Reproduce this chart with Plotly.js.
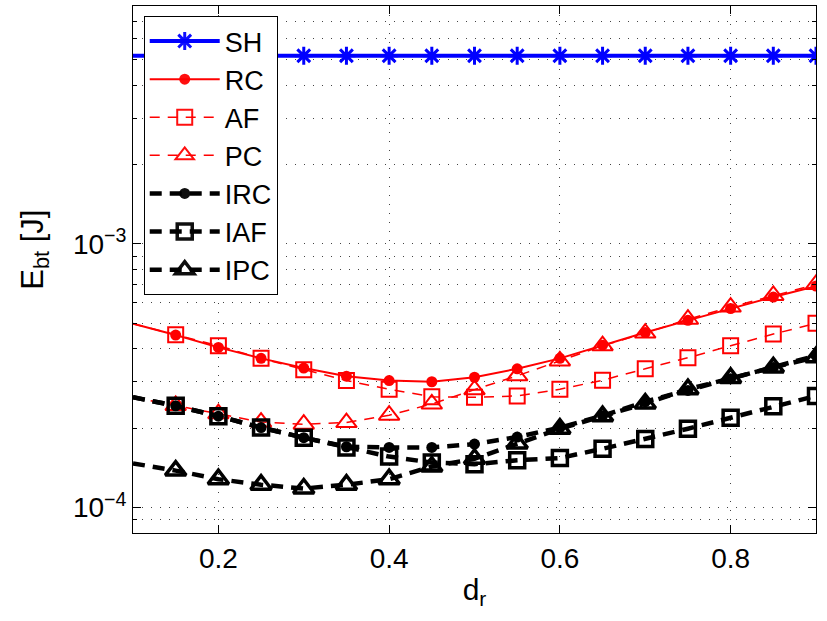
<!DOCTYPE html>
<html>
<head>
<meta charset="utf-8">
<script src="https://cdn.plot.ly/plotly-3.0.1.min.js"></script>
<style>html,body{margin:0;padding:0;background:#fff;}#chart{width:827px;height:621px;}</style>
</head>
<body>
<div id="chart"></div>
<script>
// x values (d_r)
const dr = [0.10, 0.15, 0.20, 0.25, 0.30, 0.35, 0.40, 0.45, 0.50, 0.55, 0.60, 0.65, 0.70, 0.75, 0.80, 0.85, 0.90];
// E_bt [J] per method
const SH  = [5.18e-3, 5.18e-3, 5.18e-3, 5.18e-3, 5.18e-3, 5.18e-3, 5.18e-3, 5.18e-3, 5.18e-3, 5.18e-3, 5.18e-3, 5.18e-3, 5.18e-3, 5.18e-3, 5.18e-3, 5.18e-3, 5.18e-3];
const RC  = [4.98e-4, 4.51e-4, 4.05e-4, 3.68e-4, 3.38e-4, 3.15e-4, 3.03e-4, 3.00e-4, 3.12e-4, 3.36e-4, 3.68e-4, 4.13e-4, 4.61e-4, 5.13e-4, 5.69e-4, 6.29e-4, 6.92e-4];
const AF  = [4.98e-4, 4.52e-4, 4.11e-4, 3.68e-4, 3.33e-4, 3.03e-4, 2.81e-4, 2.63e-4, 2.62e-4, 2.65e-4, 2.81e-4, 3.04e-4, 3.36e-4, 3.70e-4, 4.11e-4, 4.55e-4, 5.00e-4];
const PC  = [2.62e-4, 2.44e-4, 2.27e-4, 2.11e-4, 2.07e-4, 2.10e-4, 2.24e-4, 2.47e-4, 2.80e-4, 3.16e-4, 3.60e-4, 4.11e-4, 4.59e-4, 5.18e-4, 5.76e-4, 6.38e-4, 7.02e-4];
const IRC = [2.62e-4, 2.43e-4, 2.22e-4, 2.01e-4, 1.84e-4, 1.70e-4, 1.69e-4, 1.69e-4, 1.74e-4, 1.85e-4, 2.01e-4, 2.23e-4, 2.52e-4, 2.78e-4, 3.08e-4, 3.40e-4, 3.77e-4];
const IAF = [2.62e-4, 2.43e-4, 2.22e-4, 2.01e-4, 1.84e-4, 1.69e-4, 1.56e-4, 1.48e-4, 1.46e-4, 1.51e-4, 1.54e-4, 1.67e-4, 1.82e-4, 1.99e-4, 2.19e-4, 2.42e-4, 2.65e-4];
const IPC = [1.47e-4, 1.38e-4, 1.28e-4, 1.22e-4, 1.18e-4, 1.22e-4, 1.28e-4, 1.43e-4, 1.53e-4, 1.75e-4, 1.99e-4, 2.22e-4, 2.48e-4, 2.81e-4, 3.10e-4, 3.40e-4, 3.72e-4];
const names = ['SH', 'RC', 'AF', 'PC', 'IRC', 'IAF', 'IPC'];
const xTickVals = [0.2, 0.4, 0.6, 0.8];
const xTickText = ['0.2', '0.4', '0.6', '0.8'];
const yTickVals = [1e-4, 1e-3];
const yTickText = ['10<sup>\u22124</sup>', '10<sup>\u22123</sup>'];
const yMinorVals = [8e-5, 9e-5, 2e-4, 3e-4, 4e-4, 5e-4, 6e-4, 7e-4, 8e-4, 9e-4, 2e-3, 3e-3, 4e-3, 5e-3, 6e-3, 7e-3, 8e-3];
const xTitle = 'd<sub>r</sub>';
const yTitle = 'E<sub>bt</sub> [J]';

// no marker at the first (edge) sample
const mop = dr.map((v, i) => i === 0 ? 0 : 1);

function tr(name, y, lineStyle, marker) {
  return {
    x: dr, y: y, name: name, type: 'scatter', mode: 'lines+markers',
    line: lineStyle,
    marker: Object.assign({opacity: mop}, marker)
  };
}

const FONT = 'Liberation Sans, Arial, Helvetica, sans-serif';

const data = [
  tr(names[0], SH,  {color: '#0000ff', width: 4},
     {symbol: 'asterisk-open', size: 15, color: '#0000ff', line: {color: '#0000ff', width: 3}}),
  tr(names[1], RC,  {color: '#ff0000', width: 2},
     {symbol: 'circle', size: 11, color: '#ff0000', line: {width: 0}}),
  tr(names[2], AF,  {color: '#ff0000', width: 1.5, dash: '10px,8px'},
     {symbol: 'square-open', size: 15, color: '#ff0000', line: {color: '#ff0000', width: 2}}),
  tr(names[3], PC,  {color: '#ff0000', width: 1.5, dash: '10px,8px'},
     {symbol: 'triangle-up-open', size: 18, color: '#ff0000', line: {color: '#ff0000', width: 2}}),
  tr(names[4], IRC, {color: '#000000', width: 4.5, dash: '12px,8px'},
     {symbol: 'circle', size: 11, color: '#000000', line: {width: 0}}),
  tr(names[5], IAF, {color: '#000000', width: 4.5, dash: '12px,8px'},
     {symbol: 'square-open', size: 15, color: '#000000', line: {color: '#000000', width: 3.5}}),
  tr(names[6], IPC, {color: '#000000', width: 4.5, dash: '12px,8px'},
     {symbol: 'triangle-up-open', size: 18, color: '#000000', line: {color: '#000000', width: 3.5}})
];

const gridDash = '1px,8px';
const gridColor = '#444444';

const layout = {
  width: 827, height: 621,
  margin: {l: 133, r: 11, t: 6, b: 88, pad: 0},
  paper_bgcolor: '#ffffff', plot_bgcolor: '#ffffff',
  font: {family: FONT, size: 28, color: '#000000'},
  showlegend: true,
  legend: {
    x: 0.0157, y: 0.981, xanchor: 'left', yanchor: 'top',
    bgcolor: '#ffffff', bordercolor: '#000000', borderwidth: 1,
    font: {family: FONT, size: 27, color: '#000000'},
    itemwidth: 70, tracegroupgap: 0
  },
  xaxis: {
    range: [0.1, 0.9],
    tickmode: 'array', tickvals: xTickVals, ticktext: xTickText,
    ticks: 'inside', ticklen: 8, tickwidth: 1, tickcolor: '#000000',
    showline: true, linecolor: '#000000', linewidth: 1, mirror: 'ticks',
    showgrid: true, gridcolor: gridColor, griddash: gridDash, gridwidth: 1,
    zeroline: false,
    tickfont: {family: FONT, size: 28},
    title: {text: xTitle, font: {family: FONT, size: 30}, standoff: 6}
  },
  yaxis: {
    type: 'log',
    range: [Math.log10(8e-5), Math.log10(8e-3)],
    tickmode: 'array', tickvals: yTickVals, ticktext: yTickText,
    ticks: 'inside', ticklen: 8, tickwidth: 1, tickcolor: '#000000',
    showline: true, linecolor: '#000000', linewidth: 1, mirror: 'ticks',
    showgrid: true, gridcolor: gridColor, griddash: gridDash, gridwidth: 1,
    zeroline: false,
    tickfont: {family: FONT, size: 28},
    minor: {tickmode: 'array', tickvals: yMinorVals, ticks: 'inside', ticklen: 4, tickcolor: '#000000',
            showgrid: true, gridcolor: gridColor, griddash: gridDash, gridwidth: 1}
  },
  annotations: [{
    text: yTitle, xref: 'paper', yref: 'paper', x: -0.144, y: 0.537,
    xanchor: 'center', yanchor: 'middle', textangle: -90, showarrow: false,
    font: {family: FONT, size: 31, color: '#000000'}
  }]
};

Plotly.newPlot('chart', data, layout, {staticPlot: true, displayModeBar: false});
</script>
</body>
</html>
